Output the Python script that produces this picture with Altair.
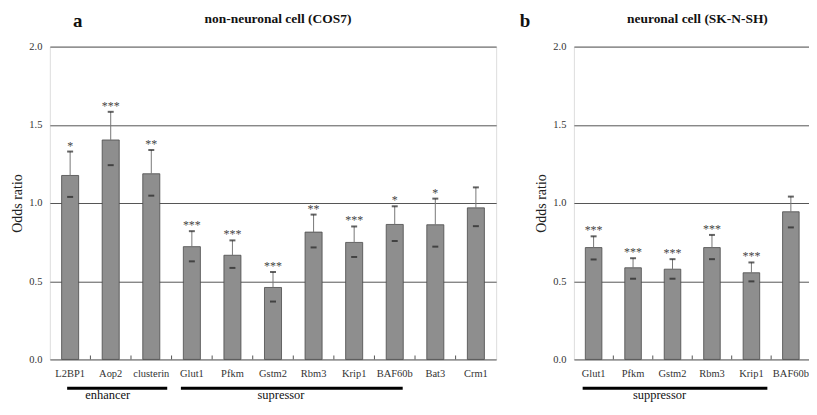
import altair as alt
import pandas as pd

SERIF = "Liberation Serif"

# ---------------- data ----------------
left_genes = ["L2BP1", "Aop2", "clusterin", "Glut1", "Pfkm", "Gstm2",
              "Rbm3", "Krip1", "BAF60b", "Bat3", "Crm1"]
left_odds = [1.176, 1.403, 1.187, 0.721, 0.666, 0.460, 0.814, 0.748, 0.863, 0.861, 0.969]
left_upper = [1.329, 1.583, 1.339, 0.820, 0.761, 0.559, 0.926, 0.850, 0.979, 1.028, 1.100]
left_lower = [1.039, 1.242, 1.047, 0.627, 0.585, 0.370, 0.716, 0.655, 0.757, 0.721, 0.852]
left_stars = ["*", "***", "**", "***", "***", "***", "**", "***", "*", "*", ""]

right_genes = ["Glut1", "Pfkm", "Gstm2", "Rbm3", "Krip1", "BAF60b"]
right_odds = [0.715, 0.586, 0.577, 0.715, 0.554, 0.944]
right_upper = [0.787, 0.647, 0.641, 0.796, 0.620, 1.041]
right_lower = [0.639, 0.516, 0.516, 0.641, 0.499, 0.844]
right_stars = ["***", "***", "***", "***", "***", ""]

left_groups = ["enhancer", "supressor"]
left_group_from = ["L2BP1", "Glut1"]
left_group_to = ["clusterin", "BAF60b"]
left_group_label_at = ["Aop2", "Gstm2"]

right_groups = ["suppressor"]
right_group_from = ["Glut1"]
right_group_to = ["Krip1"]
right_group_label_at = ["Gstm2"]

panel_letters = ["a", "b"]
panel_titles = ["non-neuronal cell (COS7)", "neuronal cell (SK-N-SH)"]
y_ticks = [0.0, 0.5, 1.0, 1.5, 2.0]

H = 314


def make_panel(genes, odds, upper, lower, stars, groups, g_from, g_to, g_lab,
               width, pad_inner, letter, title, letter_x, title_x,
               line_offsets, label_dx):
    step = width / len(genes)
    df = pd.DataFrame({"gene": genes, "odds": odds, "upper": upper,
                       "lower": lower, "stars": stars})
    xscale = alt.Scale(domain=genes, paddingInner=pad_inner,
                       paddingOuter=pad_inner / 2)
    yscale = alt.Scale(domain=[0, 2], nice=False, zero=True)

    x_main = alt.X("gene:N", scale=xscale, sort=genes, title=None,
                   axis=alt.Axis(labelAngle=0, ticks=False, domain=False,
                                 labelFont=SERIF, labelFontSize=10.5,
                                 labelColor="#333", labelPadding=9, grid=False))
    x_plain = alt.X("gene:N", scale=xscale, sort=genes, title=None)
    y_main = alt.Y("odds:Q", scale=yscale, title="Odds ratio",
                   axis=alt.Axis(values=y_ticks, format=".1f", grid=True,
                                 gridColor="#555", gridWidth=1, ticks=False,
                                 domain=False, labelFont=SERIF, labelFontSize=10.5,
                                 labelColor="#333", labelPadding=8,
                                 titleFont=SERIF, titleFontSize=14,
                                 titleFontWeight="normal", titleColor="#222",
                                 titlePadding=4))
    y_plain = lambda f: alt.Y(f, scale=yscale, title="Odds ratio")

    base = alt.Chart(df)
    bars = base.mark_bar(color="#8e8e8e", stroke="#4a4a4a", strokeWidth=0.8).encode(
        x=x_main, y=y_main)
    whisk = base.mark_rule(color="#777", strokeWidth=1).encode(
        x=x_plain, y=y_plain("odds:Q"), y2="upper:Q")
    cap_u = base.mark_tick(color="#222", size=6, thickness=2).encode(
        x=x_plain, y=y_plain("upper:Q"))
    cap_l = base.mark_tick(color="#222", size=6, thickness=2).encode(
        x=x_plain, y=y_plain("lower:Q"))
    star = base.mark_text(font=SERIF, fontSize=12, color="#444",
                          baseline="alphabetic", dy=-2).encode(
        x=x_plain, y=y_plain("upper:Q"), text="stars:N")

    tick_df = pd.DataFrame({"gene": genes[1:]})
    ticks = alt.Chart(tick_df).mark_rule(color="#555", strokeWidth=1,
                                         xOffset=-step / 2).encode(
        x=x_plain, y=alt.datum(0), y2=alt.datum(0.025))

    layers = [bars, whisk, cap_u, cap_l, star, ticks]

    for i, g in enumerate(groups):
        gdf = pd.DataFrame({"s": [g_from[i]], "e": [g_to[i]],
                            "lab": [g_lab[i]], "name": [g]})
        o1, o2 = line_offsets[i]
        line = alt.Chart(gdf).mark_rule(color="black", strokeWidth=3,
                                        xOffset=o1, x2Offset=o2).encode(
            x=alt.X("s:N", scale=xscale, title=None), x2="e:N",
            y=alt.value(H + 29))
        lab = alt.Chart(gdf).mark_text(font=SERIF, fontSize=12.5, color="#111",
                                       baseline="middle", dx=label_dx[i]).encode(
            x=alt.X("lab:N", scale=xscale, title=None), y=alt.value(H + 36),
            text="name:N")
        layers += [line, lab]

    ann = pd.DataFrame({"letter": [letter], "title": [title]})
    letter_mark = alt.Chart(ann).mark_text(font=SERIF, fontSize=19, fontWeight="bold",
                                           color="#111", baseline="alphabetic").encode(
        x=alt.value(letter_x), y=alt.value(-20), text="letter:N")
    title_mark = alt.Chart(ann).mark_text(font=SERIF, fontSize=13.5, fontWeight="bold",
                                          color="#111", baseline="alphabetic").encode(
        x=alt.value(title_x), y=alt.value(-24), text="title:N")
    layers += [letter_mark, title_mark]

    return alt.layer(*layers).properties(width=width, height=H)


left = make_panel(left_genes, left_odds, left_upper, left_lower, left_stars,
                  left_groups, left_group_from, left_group_to, left_group_label_at,
                  448, 0.58, panel_letters[0], panel_titles[0], 28, 229,
                  [(-3, 16), (-11, 8)], [-3, 8])
right = make_panel(right_genes, right_odds, right_upper, right_lower, right_stars,
                   right_groups, right_group_from, right_group_to, right_group_label_at,
                   237.6, 0.58, panel_letters[1], panel_titles[1], -49, 124,
                   [(-11, 16)], [-13])

chart = alt.hconcat(left, right, spacing=22).properties(
    padding={"left": 2, "top": 2, "right": -3, "bottom": 1}
).configure_view(stroke="#555", strokeWidth=1.5).configure_axis(
    labelFont=SERIF, titleFont=SERIF
).configure(background="white")

chart.save("out.html", embed_options={"renderer": "svg", "actions": False})
